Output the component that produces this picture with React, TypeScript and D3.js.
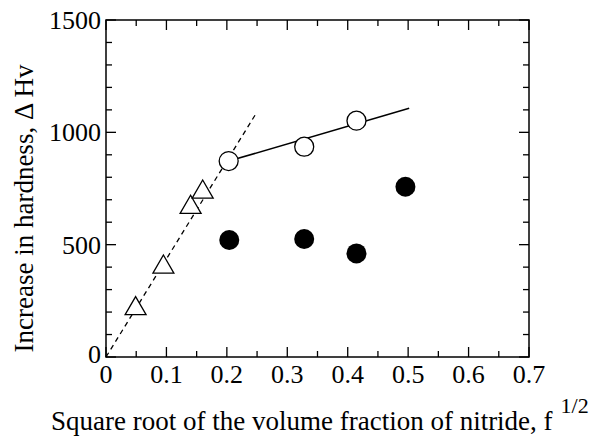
import React from "react";
import * as d3 from "d3";

const xTicks = [0, 0.1, 0.2, 0.3, 0.4, 0.5, 0.6, 0.7];
const yTicks = [0, 500, 1000, 1500];

const triX = [0.049, 0.095, 0.14, 0.16];
const triY = [224, 409, 675, 743];

const openX = [0.203, 0.328, 0.4145];
const openY = [872, 936, 1052];

const filledX = [0.204, 0.328, 0.4145, 0.4955];
const filledY = [521, 525, 461, 758];

const dashedLineX = [0, 0.2495];
const dashedLineY = [0, 1089];

const solidLineX = [0.203, 0.5017];
const solidLineY = [872, 1107];

const W = 604;
const H = 440;
const M = { left: 106, right: 529, top: 20, bottom: 357 };
const FONT = "'Liberation Serif', 'Times New Roman', serif";

export default function App() {
  const x = d3.scaleLinear().domain([0, 0.7]).range([M.left, M.right]);
  const y = d3.scaleLinear().domain([0, 1500]).range([M.bottom, M.top]);

  const xMinor = d3.range(0, 0.7001, 0.05);
  const yMinor = d3.range(0, 1500.1, 100);

  const line = d3
    .line<[number, number]>()
    .x((d) => x(d[0]))
    .y((d) => y(d[1]));

  const dashedPts: [number, number][] = dashedLineX.map((v, i) => [v, dashedLineY[i]]);
  const solidPts: [number, number][] = solidLineX.map((v, i) => [v, solidLineY[i]]);

  const tri = d3.symbol().type(d3.symbolTriangle).size(190);

  const isMajorX = (v: number) => Math.abs(v * 10 - Math.round(v * 10)) < 1e-6;
  const isMajorY = (v: number) => Math.abs(v / 500 - Math.round(v / 500)) < 1e-6;

  return (
    <svg
      width={W}
      height={H}
      style={{ position: "absolute", left: 0, top: 0, background: "#fff" }}
      fontFamily={FONT}
    >
      <rect x={0} y={0} width={W} height={H} fill="#fff" />
      {/* ticks */}
      {xMinor.map((v, i) => {
        const len = isMajorX(v) ? 10 : 6;
        return (
          <g key={"xt" + i} stroke="#000" strokeWidth={1.3}>
            <line x1={x(v)} x2={x(v)} y1={M.bottom} y2={M.bottom - len} />
            <line x1={x(v)} x2={x(v)} y1={M.top} y2={M.top + len} />
          </g>
        );
      })}
      {yMinor.map((v, i) => {
        const len = isMajorY(v) ? 10 : 6;
        return (
          <g key={"yt" + i} stroke="#000" strokeWidth={1.3}>
            <line x1={M.left} x2={M.left + len} y1={y(v)} y2={y(v)} />
            <line x1={M.right} x2={M.right - len} y1={y(v)} y2={y(v)} />
          </g>
        );
      })}
      <rect
        x={M.left}
        y={M.top}
        width={M.right - M.left}
        height={M.bottom - M.top}
        fill="none"
        stroke="#000"
        strokeWidth={1.5}
      />
      {/* tick labels */}
      {xTicks.map((v) => (
        <text
          key={"xl" + v}
          x={x(v)}
          y={M.bottom + 26}
          fontSize={26}
          textAnchor="middle"
          fill="#000"
        >
          {v === 0 ? "0" : v.toFixed(1)}
        </text>
      ))}
      {yTicks.map((v) => (
        <text
          key={"yl" + v}
          x={M.left - 5}
          y={y(v) + (v === 0 ? 6 : 9)}
          fontSize={26}
          textAnchor="end"
          fill="#000"
        >
          {v}
        </text>
      ))}
      {/* lines */}
      <path d={line(dashedPts) || ""} fill="none" stroke="#000" strokeWidth={1.3} strokeDasharray="5,4" />
      <path d={line(solidPts) || ""} fill="none" stroke="#000" strokeWidth={1.5} />
      {/* markers */}
      {triX.map((v, i) => (
        <path
          key={"tr" + i}
          d={tri() || ""}
          transform={`translate(${x(v)},${y(triY[i]) + 2})`}
          fill="#fff"
          stroke="#000"
          strokeWidth={1.3}
        />
      ))}
      {openX.map((v, i) => (
        <circle key={"oc" + i} cx={x(v)} cy={y(openY[i])} r={9.5} fill="#fff" stroke="#000" strokeWidth={1.3} />
      ))}
      {filledX.map((v, i) => (
        <circle key={"fc" + i} cx={x(v)} cy={y(filledY[i])} r={10} fill="#000" />
      ))}
      {/* axis titles */}
      <text x={51} y={430} fontSize={27} fill="#000">
        Square root of the volume fraction of nitride, f
        <tspan fontSize={22} dx={8} dy={-17}>1/2</tspan>
      </text>
      <text
        transform={`translate(33,208.5) rotate(-90)`}
        fontSize={27}
        textAnchor="middle"
        fill="#000"
      >
        Increase in hardness, Δ Hv
      </text>
    </svg>
  );
}
